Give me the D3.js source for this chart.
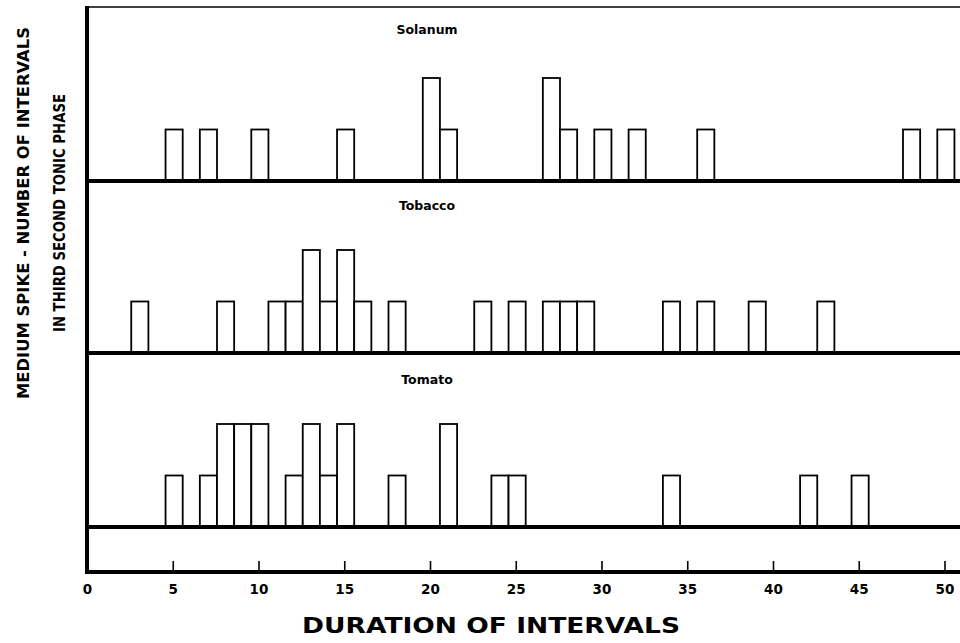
<!DOCTYPE html>
<html><head><meta charset="utf-8">
<script src="https://cdn.jsdelivr.net/npm/d3@7"></script>
<style>html,body{margin:0;padding:0;background:#fff;}svg{display:block;}</style>
</head><body>
<svg id="chart" width="960" height="643"></svg>
<script>
// Data: duration of interval (units) and number of intervals
const panels = ["Solanum", "Tobacco", "Tomato"];
const solanumDurations = [5, 7, 10, 15, 20, 21, 27, 28, 30, 32, 36, 48, 50];
const solanumCounts    = [1, 1, 1, 1, 2, 1, 2, 1, 1, 1, 1, 1, 1];
const tobaccoDurations = [3, 8, 11, 12, 13, 14, 15, 16, 18, 23, 25, 27, 28, 29, 34, 36, 39, 43];
const tobaccoCounts    = [1, 1, 1, 1, 2, 1, 2, 1, 1, 1, 1, 1, 1, 1, 1, 1, 1, 1];
const tomatoDurations  = [5, 7, 8, 9, 10, 12, 13, 14, 15, 18, 21, 24, 25, 34, 42, 45];
const tomatoCounts     = [1, 1, 2, 2, 2, 1, 2, 1, 2, 1, 2, 1, 1, 1, 1, 1];
const xTicks = [0, 5, 10, 15, 20, 25, 30, 35, 40, 45, 50];
const xTitle = "DURATION OF INTERVALS";
const yTitle1 = "MEDIUM SPIKE - NUMBER OF INTERVALS";
const yTitle2 = "IN THIRD SECOND TONIC PHASE";

const series = [
  {name: panels[0], d: solanumDurations, c: solanumCounts},
  {name: panels[1], d: tobaccoDurations, c: tobaccoCounts},
  {name: panels[2], d: tomatoDurations, c: tomatoCounts}
];

const svg = d3.select("#chart");
const font = "'DejaVu Sans', sans-serif";
const x = d3.scaleLinear().domain([0, 50]).range([87, 944.5]);
const barShift = 0.08;
const axisY = 572;
const topY = 7;
const baselines = [181, 353, 527];
const labelY = [34, 210, 384];
const hScale = d3.scaleLinear().domain([0, 1]).range([0, 51.5]);

// top border
svg.append("line").attr("x1", x(0)).attr("x2", 960).attr("y1", topY).attr("y2", topY)
  .attr("stroke", "#000").attr("stroke-width", 1.6);

series.forEach((s, i) => {
  const base = baselines[i];
  const data = s.d.map((d, j) => ({d, c: s.c[j]}));
  svg.append("g").selectAll("rect").data(data).join("rect")
    .attr("x", d => x(d.d - 0.5 + barShift))
    .attr("width", d => x(d.d + 0.5) - x(d.d - 0.5))
    .attr("y", d => base - hScale(d.c))
    .attr("height", d => hScale(d.c))
    .attr("fill", "#fff").attr("stroke", "#000").attr("stroke-width", 1.8);
  svg.append("line").attr("x1", x(0)).attr("x2", 960).attr("y1", base).attr("y2", base)
    .attr("stroke", "#000").attr("stroke-width", 4);
  svg.append("text").attr("x", x(20) - 3).attr("y", labelY[i])
    .attr("text-anchor", "middle").attr("font-family", font).attr("font-weight", "bold")
    .attr("font-size", 12.5).text(s.name);
});

// bottom axis
const axis = d3.axisBottom(x).tickValues(xTicks).tickSize(-11).tickPadding(12).tickFormat(d3.format("d"));
const ag = svg.append("g").attr("transform", `translate(0,${axisY})`).call(axis);
ag.select(".domain").remove();
ag.selectAll(".tick line").attr("stroke-width", 1.6);
ag.selectAll(".tick").filter(d => d === 0).select("line").remove();
ag.selectAll(".tick text").attr("font-family", font).attr("font-weight", "bold").attr("font-size", 13.5).attr("fill", "#000");
svg.append("line").attr("x1", x(0)).attr("x2", 960).attr("y1", axisY).attr("y2", axisY)
  .attr("stroke", "#000").attr("stroke-width", 4);

// left axis
svg.append("line").attr("x1", x(0)).attr("x2", x(0)).attr("y1", topY - 1).attr("y2", axisY + 2)
  .attr("stroke", "#000").attr("stroke-width", 4);

// titles
svg.append("text").attr("x", 491).attr("y", 633).attr("text-anchor", "middle")
  .attr("font-family", font).attr("font-weight", "bold").attr("font-size", 21)
  .attr("textLength", 378).attr("lengthAdjust", "spacingAndGlyphs").text(xTitle);
svg.append("text").attr("transform", "translate(29,213) rotate(-90)").attr("text-anchor", "middle")
  .attr("font-family", font).attr("font-weight", "bold").attr("font-size", 16)
  .attr("textLength", 372).attr("lengthAdjust", "spacingAndGlyphs").text(yTitle1);
svg.append("text").attr("transform", "translate(65,213) rotate(-90)").attr("text-anchor", "middle")
  .attr("font-family", font).attr("font-weight", "bold").attr("font-size", 15)
  .attr("textLength", 238).attr("lengthAdjust", "spacingAndGlyphs").text(yTitle2);
</script>
</body></html>
